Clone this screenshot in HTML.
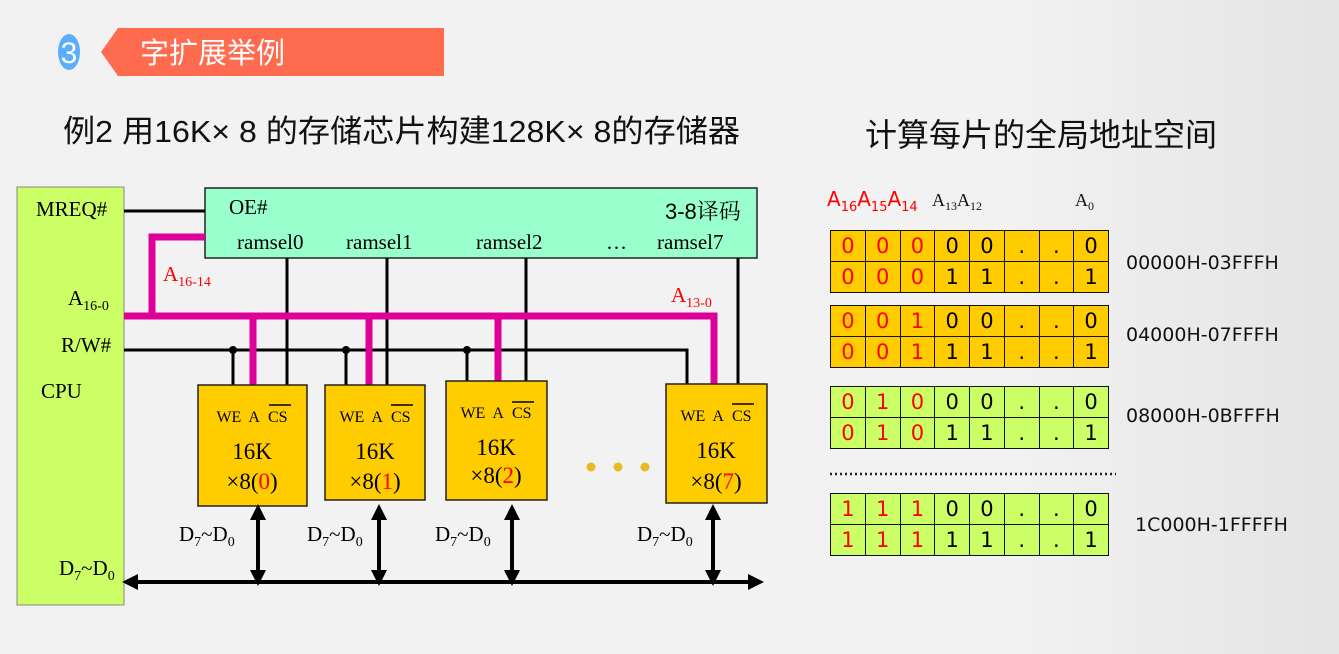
<!DOCTYPE html>
<html><head><meta charset="utf-8"><style>
html,body{margin:0;padding:0}
body{width:1339px;height:654px;overflow:hidden;background:linear-gradient(90deg,#f2f2f2 0%,#f2f2f2 75%,#e4e4e4 100%);position:relative;font-family:"Liberation Sans","Noto Sans CJK SC",sans-serif}
svg{position:absolute;left:0;top:0}
table{position:absolute;border-collapse:collapse;left:830px;width:279px;font-family:"DejaVu Sans","Liberation Sans",sans-serif;font-size:21px}
td{border:1.5px solid #111;height:30px;width:34px;text-align:center;padding:0;line-height:30px}
.r{color:#f00}
.y td{background:#ffcc00}.g td{background:#ccff66}
.lab{position:absolute;left:1126px;font-family:"DejaVu Sans","Liberation Sans",sans-serif;font-size:19px;color:#111}
</style></head><body>
<svg width="1339" height="654" xmlns="http://www.w3.org/2000/svg">
<defs>
<marker id="ah" markerWidth="4" markerHeight="4" refX="2" refY="2" orient="auto-start-reverse" markerUnits="strokeWidth"><path d="M0,0 L4,2 L0,4 Z" fill="#000"/></marker>
</defs>
<ellipse cx="69" cy="52" rx="11" ry="18" fill="#5aaefc"/>
<text x="69" y="63" font-size="30" fill="#fff" text-anchor="middle" font-family="Liberation Sans,sans-serif">3</text>
<polygon points="118,28 444,28 444,76 118,76 101,52" fill="#ff6b4f"/>
<text x="140" y="63" font-size="29" fill="#fff" font-family="Noto Sans CJK SC,sans-serif">字扩展举例</text>
<text x="63" y="142" font-size="31" fill="#111" font-family="Liberation Sans,Noto Sans CJK SC,sans-serif" textLength="677" lengthAdjust="spacingAndGlyphs">例2 用16K× 8 的存储芯片构建128K× 8的存储器</text>
<text x="865" y="146" font-size="32" fill="#111" font-family="Noto Sans CJK SC,sans-serif" textLength="352" lengthAdjust="spacingAndGlyphs">计算每片的全局地址空间</text>

<rect x="17" y="187" width="107" height="418" fill="#ccff66" stroke="#888" stroke-width="1"/>
<g font-family="Liberation Serif,serif" font-size="21" fill="#000">
<text x="36" y="216">MREQ#</text>
<text x="68" y="305">A<tspan font-size="14" dy="5">16-0</tspan></text>
<text x="61" y="352">R/W#</text>
<text x="41" y="398">CPU</text>
<text x="59" y="575">D<tspan font-size="14" dy="5">7</tspan><tspan dy="-5">~D</tspan><tspan font-size="14" dy="5">0</tspan></text>
</g>
<rect x="205" y="188" width="552" height="70" fill="#99ffcc" stroke="#222" stroke-width="1.5"/>
<g font-family="Liberation Serif,serif" font-size="21" fill="#000">
<text x="229" y="214">OE#</text>
<text x="237" y="249">ramsel0</text>
<text x="346" y="249">ramsel1</text>
<text x="476" y="249">ramsel2</text>
<text x="606" y="249">…</text>
<text x="657" y="249">ramsel7</text>
<text x="665" y="219" font-family="Liberation Sans,Noto Sans CJK SC,sans-serif" font-size="22">3-8<tspan font-family="Noto Serif CJK SC,serif">译码</tspan></text>
</g>
<line x1="124" y1="211" x2="205" y2="211" stroke="#000" stroke-width="3"/>
<g stroke="#000" stroke-width="3" fill="none">
<line x1="287" y1="258" x2="287" y2="385"/>
<line x1="387" y1="258" x2="387" y2="385"/>
<line x1="526" y1="258" x2="526" y2="381"/>
<line x1="738" y1="258" x2="738" y2="384"/>
<polyline points="124,350 687,350 687,384"/>
<line x1="233" y1="350" x2="233" y2="385"/>
<line x1="346" y1="350" x2="346" y2="385"/>
<line x1="467" y1="350" x2="467" y2="381"/>
</g>
<g fill="#000"><circle cx="233" cy="350" r="4"/><circle cx="346" cy="350" r="4"/><circle cx="467" cy="350" r="4"/></g>
<g stroke="#dd0099" stroke-width="7" fill="none">
<polyline points="205,237 152,237 152,316"/>
<polyline points="124,316 714,316 714,384"/>
<line x1="253" y1="316" x2="253" y2="385"/>
<line x1="369" y1="316" x2="369" y2="385"/>
<line x1="498" y1="316" x2="498" y2="381"/>
</g>
<g font-family="Liberation Serif,serif" fill="#f00" font-size="21">
<text x="163" y="281">A<tspan font-size="14" dy="5">16-14</tspan></text>
<text x="671" y="302">A<tspan font-size="14" dy="5">13-0</tspan></text>
</g>
<g stroke="#222" stroke-width="1.5" fill="#ffcc00">
<rect x="198" y="385" width="109" height="121"/>
<rect x="325" y="385" width="100" height="115"/>
<rect x="446" y="381" width="101" height="119"/>
<rect x="666" y="384" width="101" height="119"/>
</g>
<g font-family="Liberation Serif,serif" fill="#000" text-anchor="middle">
<g font-size="16"><text x="252" y="422">WE&#160; A&#160; CS</text><text x="375" y="422">WE&#160; A&#160; CS</text><text x="496" y="418">WE&#160; A&#160; CS</text><text x="716" y="421">WE&#160; A&#160; CS</text></g>
<g font-size="23"><text x="252" y="459">16K</text><text x="375" y="459">16K</text><text x="496" y="455">16K</text><text x="716" y="458">16K</text>
<text x="252" y="489">×8(<tspan fill="#f00">0</tspan>)</text><text x="375" y="489">×8(<tspan fill="#f00">1</tspan>)</text><text x="496" y="483">×8(<tspan fill="#f00">2</tspan>)</text><text x="716" y="489">×8(<tspan fill="#f00">7</tspan>)</text></g>
</g>
<g stroke="#000" stroke-width="1.5"><line x1="269" y1="405" x2="291" y2="405"/><line x1="391" y1="405" x2="413" y2="405"/><line x1="512" y1="402" x2="534" y2="402"/><line x1="732" y1="404" x2="754" y2="404"/></g>
<g fill="#e8bb22"><circle cx="591" cy="467" r="4.5"/><circle cx="618" cy="467" r="4.5"/><circle cx="645" cy="467" r="4.5"/></g>
<g stroke="#000" stroke-width="4" marker-start="url(#ah)" marker-end="url(#ah)">
<line x1="130" y1="582" x2="756" y2="582"/>
<line x1="258" y1="512" x2="258" y2="578"/>
<line x1="379" y1="512" x2="379" y2="578"/>
<line x1="512" y1="512" x2="512" y2="578"/>
<line x1="713" y1="512" x2="713" y2="578"/>
</g>
<g font-family="Liberation Serif,serif" font-size="21" fill="#000">
<text x="179" y="541">D<tspan font-size="14" dy="5">7</tspan><tspan dy="-5">~D</tspan><tspan font-size="14" dy="5">0</tspan></text>
<text x="307" y="541">D<tspan font-size="14" dy="5">7</tspan><tspan dy="-5">~D</tspan><tspan font-size="14" dy="5">0</tspan></text>
<text x="435" y="541">D<tspan font-size="14" dy="5">7</tspan><tspan dy="-5">~D</tspan><tspan font-size="14" dy="5">0</tspan></text>
<text x="637" y="541">D<tspan font-size="14" dy="5">7</tspan><tspan dy="-5">~D</tspan><tspan font-size="14" dy="5">0</tspan></text>
</g>
<text x="827" y="206" font-size="20" fill="#f00" font-family="DejaVu Sans,sans-serif">A<tspan font-size="13" dy="5">16</tspan><tspan dy="-5">A</tspan><tspan font-size="13" dy="5">15</tspan><tspan dy="-5">A</tspan><tspan font-size="13" dy="5">14</tspan></text>
<text x="932" y="206" font-size="18" fill="#111" font-family="Liberation Serif,serif">A<tspan font-size="12" dy="4">13</tspan><tspan dy="-4">A</tspan><tspan font-size="12" dy="4">12</tspan></text>
<text x="1075" y="206" font-size="18" fill="#111" font-family="Liberation Serif,serif">A<tspan font-size="12" dy="4">0</tspan></text>
<line x1="830" y1="474" x2="1116" y2="474" stroke="#222" stroke-width="2.5" stroke-dasharray="2,3"/>
</svg>

<table class="y" style="top:230px"><tr><td class="r">0</td><td class="r">0</td><td class="r">0</td><td>0</td><td>0</td><td>.</td><td>.</td><td>0</td></tr><tr><td class="r">0</td><td class="r">0</td><td class="r">0</td><td>1</td><td>1</td><td>.</td><td>.</td><td>1</td></tr></table>
<table class="y" style="top:305px"><tr><td class="r">0</td><td class="r">0</td><td class="r">1</td><td>0</td><td>0</td><td>.</td><td>.</td><td>0</td></tr><tr><td class="r">0</td><td class="r">0</td><td class="r">1</td><td>1</td><td>1</td><td>.</td><td>.</td><td>1</td></tr></table>
<table class="g" style="top:386px"><tr><td class="r">0</td><td class="r">1</td><td class="r">0</td><td>0</td><td>0</td><td>.</td><td>.</td><td>0</td></tr><tr><td class="r">0</td><td class="r">1</td><td class="r">0</td><td>1</td><td>1</td><td>.</td><td>.</td><td>1</td></tr></table>
<table class="g" style="top:493px"><tr><td class="r">1</td><td class="r">1</td><td class="r">1</td><td>0</td><td>0</td><td>.</td><td>.</td><td>0</td></tr><tr><td class="r">1</td><td class="r">1</td><td class="r">1</td><td>1</td><td>1</td><td>.</td><td>.</td><td>1</td></tr></table>
<div class="lab" style="top:252px">00000H-03FFFH</div>
<div class="lab" style="top:324px">04000H-07FFFH</div>
<div class="lab" style="top:405px">08000H-0BFFFH</div>
<div class="lab" style="top:514px;left:1135px">1C000H-1FFFFH</div>
</body></html>
